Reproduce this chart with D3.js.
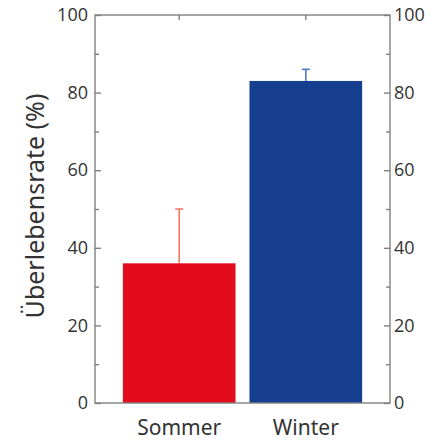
<!DOCTYPE html>
<html>
<head>
<meta charset="utf-8">
<script src="https://cdn.jsdelivr.net/npm/d3@7"></script>
<style>
body { margin: 0; background: #fff; }
text { font-family: "Noto Sans", "Open Sans", sans-serif; fill: #333; }
</style>
</head>
<body>
<svg id="chart" width="438" height="441"></svg>
<script>
// data
var categories = ['Sommer', 'Winter']
var values = [36, 83]
var errors = [14, 3]
var barColors = ['#e30b1c', '#173f8f']
var errColors = ['#f27a66', '#5576c4']
var majorTicks = [0, 20, 40, 60, 80, 100]
var minorTicks = [10, 30, 50, 70, 90]

var svg = d3.select('#chart')
var plotLeft = 95, plotRight = 390, plotTop = 15, plotBottom = 403

var y = d3.scaleLinear().domain([0, 100]).range([plotBottom, plotTop])
var x = d3.scaleBand().domain(categories).range([plotLeft, plotRight]).paddingInner(0.11).paddingOuter(0.22)

// bars
svg.selectAll('.bar')
    .data(categories)
    .enter().append('rect')
    .attr('class', 'bar')
    .attr('x', (d) => x(d))
    .attr('width', x.bandwidth())
    .attr('y', (d, i) => y(values[i]))
    .attr('height', (d, i) => y(0) - y(values[i]))
    .attr('fill', (d, i) => barColors[i])

// error bars (upper only)
var err = svg.selectAll('.err')
    .data(categories)
    .enter().append('g')
    .attr('class', 'err')
    .attr('stroke', (d, i) => errColors[i])
    .attr('stroke-width', 1.6)
err.append('line')
    .attr('x1', (d) => x(d) + x.bandwidth() / 2)
    .attr('x2', (d) => x(d) + x.bandwidth() / 2)
    .attr('y1', (d, i) => y(values[i]))
    .attr('y2', (d, i) => y(values[i] + errors[i]))
err.append('line')
    .attr('x1', (d) => x(d) + x.bandwidth() / 2 - 4)
    .attr('x2', (d) => x(d) + x.bandwidth() / 2 + 4)
    .attr('y1', (d, i) => y(values[i] + errors[i]))
    .attr('y2', (d, i) => y(values[i] + errors[i]))

// frame
svg.append('rect')
    .attr('x', plotLeft).attr('y', plotTop)
    .attr('width', plotRight - plotLeft).attr('height', plotBottom - plotTop)
    .attr('fill', 'none').attr('stroke', '#808080').attr('stroke-width', 1.4)

// left and right axes, ticks inward
var yLeft = d3.axisLeft(y).tickValues(majorTicks).tickSizeInner(-6).tickSizeOuter(0).tickPadding(7)
var yRight = d3.axisRight(y).tickValues(majorTicks).tickSizeInner(-6).tickSizeOuter(0).tickPadding(4)
var gl = svg.append('g').attr('transform', 'translate(' + plotLeft + ',0)').call(yLeft)
var gr = svg.append('g').attr('transform', 'translate(' + plotRight + ',0)').call(yRight)
var gl2 = svg.append('g').attr('transform', 'translate(' + plotLeft + ',0)')
    .call(d3.axisLeft(y).tickValues(minorTicks).tickSize(-4).tickFormat(''))
var gr2 = svg.append('g').attr('transform', 'translate(' + plotRight + ',0)')
    .call(d3.axisRight(y).tickValues(minorTicks).tickSize(-4).tickFormat(''))
var gt = svg.append('g').attr('transform', 'translate(0,' + plotTop + ')')
    .call(d3.axisTop(x).tickSize(-5).tickFormat(''))

;[gl, gr, gl2, gr2, gt].forEach(function (g) {
    g.select('.domain').remove()
    g.selectAll('line').attr('stroke', '#808080').attr('stroke-width', 1.4)
})
;[gl, gr].forEach(function (g) {
    g.selectAll('text')
        .style('font-size', '18px')
        .style('font-family', '"Open Sans", "Noto Sans", sans-serif')
        .attr('fill', '#333')
})

// category labels
svg.selectAll('.cat')
    .data(categories)
    .enter().append('text')
    .attr('class', 'cat')
    .attr('x', (d) => x(d) + x.bandwidth() / 2)
    .attr('y', 435)
    .attr('text-anchor', 'middle')
    .style('font-size', '21px')
    .text((d) => d)

// y title
svg.append('text')
    .attr('transform', 'translate(44,206) rotate(-90)')
    .attr('text-anchor', 'middle')
    .style('font-size', '25px')
    .text('Überlebensrate (%)')
</script>
</body>
</html>
